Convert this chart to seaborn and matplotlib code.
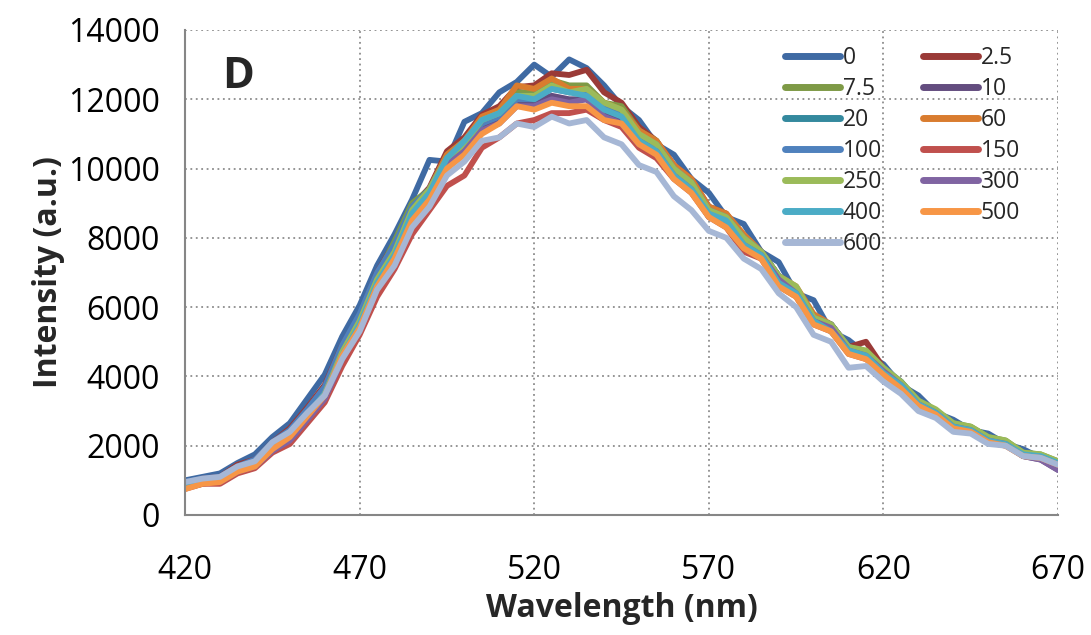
import pandas as pd
import numpy as np
import matplotlib
matplotlib.use('Agg')
import matplotlib.pyplot as plt
import seaborn as sns
from matplotlib.lines import Line2D

# wavelength grid (nm) and intensity, one list per concentration
wavelength = list(range(420, 671, 5))

labels = ['0', '2.5', '7.5', '10', '20', '60', '100', '150', '250', '300', '400', '500', '600']
colors = ['#3F6AA3', '#9A3A37', '#7E9A46', '#634D7F', '#34899E', '#D97C2F', '#4F81BD',
          '#C0504D', '#9BBB59', '#8064A2', '#4BACC6', '#F79646', '#A6B7D5']

s0 = [1000, 1100, 1200, 1500, 1750, 2250, 2650, 3350, 4050, 5150, 6050, 7200, 8100, 9100, 10250, 10200,
      11350, 11600, 12200, 12500, 13000, 12650, 13150, 12900, 12400, 11800, 11400, 10700, 10400, 9700,
      9300, 8600, 8400, 7600, 7300, 6400, 6200, 5300, 5050, 4650, 4350, 3750, 3450, 2950, 2750, 2450,
      2350, 2050, 1900, 1650, 1500]
s2_5 = [900, 1050, 1100, 1450, 1600, 2100, 2500, 3100, 3750, 4900, 5750, 7000, 7850, 8900, 9450, 10500,
        10900, 11550, 11800, 12350, 12400, 12750, 12700, 12850, 12200, 11900, 11200, 10800, 10100, 9700,
        8900, 8700, 8000, 7600, 6900, 6500, 5700, 5500, 4850, 5000, 4250, 3800, 3250, 3000, 2600, 2500,
        2200, 2100, 1750, 1700, 1400]
s7_5 = [800, 950, 1000, 1300, 1450, 1950, 2300, 2850, 3500, 4700, 5700, 6900, 7900, 9000, 9400, 10400,
        10800, 11400, 11600, 12200, 12200, 12550, 12400, 12400, 11900, 11800, 11100, 10800, 10000, 9600,
        8800, 8600, 7900, 7600, 6900, 6500, 5700, 5500, 4850, 4700, 4200, 3850, 3300, 3000, 2650, 2550,
        2250, 2150, 1800, 1750, 1550]
s10 = [780, 900, 980, 1250, 1400, 1850, 2200, 2750, 3350, 4400, 5300, 6600, 7400, 8600, 9200, 10100,
       10600, 11200, 11400, 11900, 11900, 12100, 12000, 12000, 11600, 11400, 10800, 10500, 9800, 9400,
       8700, 8500, 7800, 7500, 6800, 6400, 5600, 5400, 4750, 4600, 4150, 3800, 3250, 2950, 2550, 2450,
       2150, 2050, 1700, 1600, 1300]
s20 = [850, 1000, 1050, 1350, 1500, 2000, 2350, 2950, 3600, 4800, 5700, 6900, 7700, 8800, 9400, 10300,
       10700, 11300, 11600, 12100, 12100, 12400, 12200, 12300, 11800, 11600, 11000, 10700, 10000, 9600,
       8800, 8600, 8000, 7600, 6900, 6500, 5700, 5500, 4850, 4650, 4200, 3850, 3250, 3000, 2600, 2500,
       2200, 2100, 1750, 1700, 1500]
s60 = [800, 950, 1000, 1300, 1450, 1950, 2300, 2900, 3550, 4700, 5600, 6800, 7700, 8800, 9400, 10400,
       10800, 11500, 11700, 12400, 12300, 12600, 12300, 12300, 11900, 11700, 11100, 10800, 10100, 9700,
       8900, 8700, 8100, 7600, 6900, 6600, 5800, 5500, 4850, 4650, 4200, 3800, 3250, 3000, 2600, 2500,
       2200, 2100, 1750, 1700, 1500]
s100 = [950, 1050, 1100, 1400, 1600, 2100, 2450, 3050, 3700, 4900, 5800, 7000, 7800, 8900, 9400, 10300,
        10700, 11300, 11500, 12000, 12000, 12300, 12200, 12200, 11800, 11600, 10900, 10700, 10000, 9600,
        8800, 8600, 8000, 7600, 6900, 6500, 5700, 5500, 4850, 4700, 4250, 3850, 3250, 3000, 2600, 2500,
        2150, 2050, 1750, 1700, 1500]
s150 = [750, 900, 900, 1200, 1350, 1800, 2050, 2650, 3250, 4300, 5200, 6300, 7100, 8100, 8800, 9500,
        9800, 10600, 10900, 11300, 11400, 11600, 11600, 11700, 11400, 11200, 10600, 10300, 9700, 9300,
        8600, 8300, 7600, 7400, 6600, 6300, 5500, 5300, 4650, 4500, 4150, 3650, 3100, 2850, 2500, 2400,
        2100, 2000, 1700, 1650, 1450]
s250 = [800, 950, 1000, 1300, 1450, 1950, 2300, 2850, 3500, 4700, 5600, 6800, 7600, 8800, 9400, 10300,
        10700, 11400, 11600, 12100, 12100, 12400, 12200, 12300, 11900, 11700, 11000, 10700, 10000, 9600,
        8800, 8600, 8000, 7600, 6900, 6600, 5700, 5500, 4850, 4750, 4250, 3850, 3300, 3050, 2650, 2550,
        2250, 2150, 1800, 1750, 1550]
s300 = [820, 950, 950, 1250, 1400, 1850, 2150, 2750, 3350, 4500, 5400, 6600, 7400, 8600, 9200, 10100,
        10500, 11100, 11300, 11800, 11800, 12000, 11900, 12000, 11500, 11300, 10700, 10500, 9800, 9400,
        8600, 8400, 7800, 7500, 6800, 6400, 5600, 5400, 4750, 4600, 4150, 3750, 3200, 2950, 2550, 2450,
        2150, 2050, 1700, 1600, 1300]
s400 = [850, 1000, 1050, 1350, 1500, 1950, 2300, 2900, 3500, 4600, 5500, 6700, 7500, 8700, 9300, 10300,
        10800, 11400, 11600, 12100, 12000, 12300, 12200, 12100, 11700, 11500, 10800, 10500, 9800, 9400,
        8700, 8500, 7800, 7500, 6700, 6400, 5600, 5300, 4750, 4600, 4100, 3750, 3200, 2950, 2550, 2450,
        2150, 2050, 1750, 1700, 1500]
s500 = [750, 900, 950, 1250, 1400, 1900, 2250, 2850, 3450, 4600, 5400, 6600, 7400, 8500, 9100, 10000,
        10400, 11000, 11300, 11800, 11700, 11900, 11800, 11800, 11400, 11300, 10700, 10400, 9700, 9300,
        8600, 8300, 7700, 7400, 6600, 6300, 5500, 5300, 4650, 4500, 4050, 3650, 3150, 2900, 2500, 2400,
        2100, 2000, 1700, 1650, 1450]
s600 = [950, 1050, 1100, 1400, 1550, 2100, 2400, 2950, 3450, 4500, 5300, 6500, 7200, 8300, 8900, 9800,
        10200, 10800, 10900, 11300, 11200, 11500, 11300, 11400, 10900, 10700, 10100, 9900, 9200, 8800,
        8200, 8000, 7400, 7100, 6400, 6000, 5200, 5000, 4250, 4300, 3850, 3500, 3000, 2800, 2400, 2350,
        2050, 2000, 1700, 1650, 1450]

series = [s0, s2_5, s7_5, s10, s20, s60, s100, s150, s250, s300, s400, s500, s600]

df = pd.concat([pd.DataFrame({'Wavelength': wavelength, 'Intensity': vals, 'Conc': lab})
                for lab, vals in zip(labels, series)], ignore_index=True)

sns.set_style('white')
plt.rcParams['font.family'] = ['Open Sans', 'DejaVu Sans']

fig = plt.figure(figsize=(10.91, 6.35), dpi=100)
ax = fig.add_axes([0.1696, 0.189, 0.8002, 0.7638])

sns.lineplot(data=df, x='Wavelength', y='Intensity', hue='Conc', hue_order=labels,
             palette=colors, linewidth=4.2, sort=False, estimator=None, legend=False, ax=ax)

ax.set_xlim(420, 670)
ax.set_ylim(0, 14000)
ax.set_xticks(range(420, 671, 50))
ax.set_yticks(range(0, 14001, 2000))
ax.grid(True, color='#8C8C8C', linestyle=(0, (1, 2)), linewidth=1.3)
ax.set_axisbelow(True)
for side in ['top', 'right']:
    ax.spines[side].set_visible(False)
for side in ['left', 'bottom']:
    ax.spines[side].set_color('#868686')
    ax.spines[side].set_linewidth(1.5)
ax.tick_params(axis='both', labelsize=23, colors='#868686', labelcolor='black', width=1.5)
ax.tick_params(axis='y', length=8, pad=10)
ax.tick_params(axis='x', length=10, pad=18)

ax.set_xlabel('Wavelength (nm)', fontsize=23, fontweight='bold', labelpad=4)
ax.set_ylabel('Intensity (a.u.)', fontsize=23, fontweight='bold', labelpad=2)

ax.text(0.061, 0.905, 'D', transform=ax.transAxes, fontsize=31, fontweight='bold',
        ha='center', va='center')

# legend laid out row by row, two columns
handles = [Line2D([0], [0], color=c, linewidth=5, solid_capstyle='round') for c in colors]
order = [0, 2, 4, 6, 8, 10, 12, 1, 3, 5, 7, 9, 11]
leg = ax.legend([handles[i] for i in order], [labels[i] for i in order], ncol=2,
                loc='upper left', bbox_to_anchor=(0.677, 0.985), frameon=False,
                fontsize=16.5, handlelength=2.4, handletextpad=0.1, labelspacing=0.3,
                columnspacing=1.8, borderaxespad=0)

plt.savefig('out.png', dpi=100)
